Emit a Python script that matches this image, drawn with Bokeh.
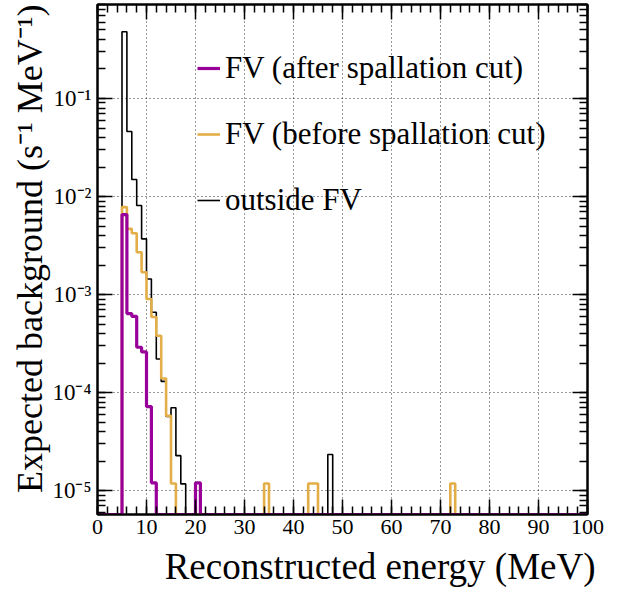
import numpy as np
from bokeh.plotting import figure
from bokeh.models import (LinearAxis, LogAxis, Legend, LegendItem, CustomJSTickFormatter,
                          SingleIntervalTicker, LogTicker, Range1d, Title)
from bokeh.embed import file_html
from bokeh.resources import INLINE

# ---- data (1 MeV bins, value per bin start) ----
bin_edges = list(range(0, 101))

outside_bins = [5, 6, 7, 8, 9, 10, 11, 12, 13, 14, 15, 16, 17, 47]
outside_vals = [0.48, 0.046, 0.0149, 0.0081, 0.0037, 0.00144, 6.6e-4, 2.2e-4, 1.3e-4,
                5.7e-5, 7.0e-5, 2.27e-5, 1.17e-5, 2.33e-5]

before_bins = [5, 6, 7, 8, 9, 10, 11, 12, 13, 14, 15, 34, 43, 44, 72]
before_vals = [0.0078, 0.00468, 0.00422, 0.0027, 0.00169, 9.0e-4, 5.9e-4, 3.8e-4, 1.39e-4,
               5.8e-5, 1.18e-5, 1.18e-5, 1.18e-5, 1.18e-5, 1.18e-5]

after_bins = [5, 6, 7, 8, 9, 10, 11, 20]
after_vals = [0.00655, 6.4e-4, 6.0e-4, 2.9e-4, 2.6e-4, 7.2e-5, 1.2e-5, 1.2e-5]

labels = ["FV (after spallation cut)", "FV (before spallation cut)", "outside FV"]
colors = ["#990099", "#e3ae47", "black"]
x_title = "Reconstructed energy (MeV)"
y_title = "Expected background (s\u207b\u00b9 MeV\u207b\u00b9)"

Y_MIN, Y_MAX = 5.7e-6, 0.91
FONT = "Liberation Serif"


def step_arrays(bins, vals):
    h = np.zeros(len(bin_edges) - 1)
    h[np.array(bins)] = vals
    h = np.where(h > 0, h, Y_MIN)
    return np.array(bin_edges, dtype=float), np.append(h, h[-1])


p = figure(width=607, height=600, y_axis_type="log",
           x_range=Range1d(0, 100), y_range=Range1d(Y_MIN, Y_MAX),
           output_backend="svg", toolbar_location=None,
           min_border_left=97, min_border_right=20, min_border_top=4, min_border_bottom=86)
p.background_fill_color = "white"
p.border_fill_color = "white"
p.outline_line_color = "black"
p.outline_line_width = 2

bottom = p.below[0]
left = p.left[0]

xo, yo = step_arrays(outside_bins, outside_vals)
xb, yb = step_arrays(before_bins, before_vals)
xa, ya = step_arrays(after_bins, after_vals)
r_out = p.step(xo, yo, mode="after", line_color=colors[2], line_width=1.6)
r_bef = p.step(xb, yb, mode="after", line_color=colors[1], line_width=2.6)
r_aft = p.step(xa, ya, mode="after", line_color=colors[0], line_width=3.2)

# ---- axes ----
xt = SingleIntervalTicker(interval=10, num_minor_ticks=5)
yt = LogTicker(desired_num_ticks=6, num_minor_ticks=10)
sup_fmt = CustomJSTickFormatter(code="""
const e = Math.round(Math.log10(tick));
const m = {'-':'\u207b','0':'\u2070','1':'\u00b9','2':'\u00b2','3':'\u00b3','4':'\u2074',
           '5':'\u2075','6':'\u2076','7':'\u2077','8':'\u2078','9':'\u2079'};
return '10' + String(e).split('').map(c => m[c]).join('');
""")

top = LinearAxis(ticker=xt, major_label_standoff=0)
right = LogAxis(ticker=yt, major_label_standoff=0)
p.add_layout(top, "above")
p.add_layout(right, "right")

bottom.ticker = xt
left.ticker = yt
left.formatter = sup_fmt

for ax in [bottom, left, top, right]:
    ax.axis_line_color = "black"
    ax.axis_line_width = 2
    ax.major_tick_line_width = 1.5
    ax.minor_tick_line_width = 1.5
    ax.major_tick_in = 15
    ax.major_tick_out = 0
    ax.minor_tick_in = 8
    ax.minor_tick_out = 0
    ax.major_label_text_font = FONT
    ax.major_label_text_font_size = "22px"
    ax.major_label_text_color = "black"
for ax in [top, right]:
    ax.major_label_text_font_size = "0px"
    ax.major_label_text_alpha = 0
left.major_label_text_font_size = "23px"
bottom.major_label_standoff = 5
left.major_label_standoff = 6

p.add_layout(Title(text=x_title, align="right", offset=-8, standoff=14,
                   text_font=FONT, text_font_size="37px", text_font_style="normal",
                   text_color="black"), "below")
p.add_layout(Title(text=y_title, align="right", offset=0, standoff=0,
                   text_font=FONT, text_font_size="36px", text_font_style="normal",
                   text_color="black"), "left")

# ---- grid ----
p.xgrid.ticker = xt
p.ygrid.ticker = yt
for g in [p.xgrid[0], p.ygrid[0]]:
    g.grid_line_color = "black"
    g.grid_line_alpha = 0.8
    g.grid_line_dash = "1 3"
    g.grid_line_width = 1

# ---- legend ----
legend = Legend(items=[LegendItem(label=labels[0], renderers=[r_aft]),
                       LegendItem(label=labels[1], renderers=[r_bef]),
                       LegendItem(label=labels[2], renderers=[r_out])],
                location=(100, 296), orientation="vertical",
                glyph_width=23, glyph_height=36, label_height=36, spacing=30,
                label_standoff=5, padding=0, margin=0,
                border_line_color=None, background_fill_alpha=0,
                label_text_font=FONT, label_text_font_size="31px", label_text_color="black")
p.add_layout(legend)

open("out.html", "w").write(file_html(p, INLINE))
